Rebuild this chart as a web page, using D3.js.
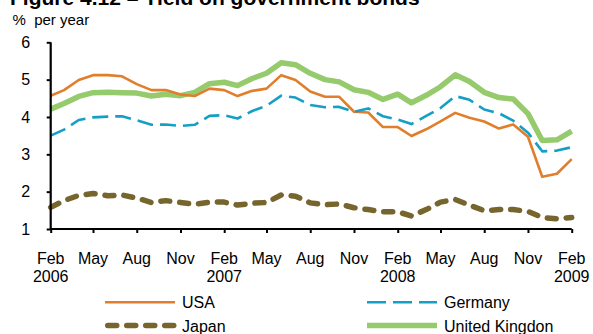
<!DOCTYPE html>
<html>
<head>
<meta charset="utf-8">
<script src="https://cdn.jsdelivr.net/npm/d3@7/dist/d3.min.js"></script>
<style>
  html, body { margin: 0; padding: 0; background: #fff; }
  svg { display: block; font-family: "Liberation Sans", Arial, sans-serif; }
</style>
</head>
<body>
<svg id="chart" width="593" height="334"></svg>
<script>
// Monthly observations, Feb 2006 – Feb 2009
const months = [
  "2006-02","2006-03","2006-04","2006-05","2006-06","2006-07","2006-08","2006-09","2006-10","2006-11","2006-12",
  "2007-01","2007-02","2007-03","2007-04","2007-05","2007-06","2007-07","2007-08","2007-09","2007-10","2007-11","2007-12",
  "2008-01","2008-02","2008-03","2008-04","2008-05","2008-06","2008-07","2008-08","2008-09","2008-10","2008-11","2008-12",
  "2009-01","2009-02"
];

// 10-year government bond yields, % per year
const usa = [4.57,4.72,4.99,5.12,5.12,5.09,4.88,4.72,4.72,4.60,4.56,
  4.76,4.72,4.56,4.70,4.76,5.12,4.99,4.68,4.54,4.54,4.14,4.12,
  3.73,3.73,3.49,3.67,3.88,4.11,3.98,3.88,3.69,3.80,3.47,2.40,
  2.48,2.87];
const germany = [3.50,3.66,3.92,3.99,4.01,4.02,3.91,3.79,3.80,3.76,3.79,
  4.03,4.05,3.96,4.16,4.30,4.57,4.52,4.32,4.26,4.27,4.14,4.23,
  4.02,3.93,3.81,4.03,4.24,4.56,4.46,4.20,4.10,3.90,3.58,3.08,
  3.10,3.19];
const japan = [1.58,1.76,1.90,1.95,1.89,1.91,1.83,1.71,1.76,1.71,1.66,
  1.72,1.72,1.64,1.69,1.71,1.91,1.88,1.70,1.65,1.67,1.57,1.52,
  1.46,1.46,1.35,1.52,1.72,1.79,1.64,1.49,1.52,1.52,1.47,1.31,
  1.27,1.31];
const uk = [4.21,4.36,4.55,4.65,4.66,4.65,4.64,4.56,4.61,4.57,4.66,
  4.89,4.93,4.84,5.03,5.17,5.45,5.40,5.17,5.00,4.94,4.73,4.66,
  4.47,4.61,4.38,4.58,4.81,5.13,4.95,4.66,4.52,4.48,4.09,3.37,
  3.39,3.62];

// Axis ticks
const yTicks = [1, 2, 3, 4, 5, 6];
const xTickMonths = ["2006-02","2006-05","2006-08","2006-11","2007-02","2007-05","2007-08","2007-11",
  "2008-02","2008-05","2008-08","2008-11","2009-02"];
const xTickLabels = [["Feb","2006"],["May"],["Aug"],["Nov"],["Feb","2007"],["May"],["Aug"],["Nov"],
  ["Feb","2008"],["May"],["Aug"],["Nov"],["Feb","2009"]];

const title = "Figure 4.12 – Yield on government bonds";
const unitLabel = "%  per year";

const parse = d3.timeParse("%Y-%m");
const dates = months.map(parse);

const series = [
  { name: "United Kingdon", values: uk,      color: "#95CB6D", width: 5.5, dash: null,   cap: "butt" },
  { name: "USA",            values: usa,     color: "#E07E2C", width: 2.6, dash: null,   cap: "butt" },
  { name: "Germany",        values: germany, color: "#169FC4", width: 2.6, dash: "16,7", cap: "butt" },
  { name: "Japan",          values: japan,   color: "#76652C", width: 5.5, dash: "9,10", cap: "round" }
];

const svg = d3.select("#chart");
const plotLeft = 50.7, plotRight = 571.7, plotTop = 42.3, plotBottom = 229;
const font = "Liberation Sans, Arial, sans-serif";

const x = d3.scaleTime().domain(d3.extent(dates)).range([plotLeft, plotRight]);
const y = d3.scaleLinear().domain([1, 6]).range([plotBottom, plotTop]);

// Title (sits partly above the frame)
svg.append("text")
  .attr("x", 10).attr("y", 4.5)
  .attr("font-size", 21).attr("font-weight", "bold")
  .attr("fill", "#000")
  .text(title);

svg.append("text")
  .attr("x", 12.5).attr("y", 25)
  .attr("font-size", 15)
  .attr("fill", "#000")
  .style("white-space", "pre")
  .text(unitLabel);

// Series lines
const line = d3.line().x((d, i) => x(dates[i])).y(d => y(d));
const plot = svg.append("g");
series.forEach(s => {
  plot.append("path")
    .datum(s.values)
    .attr("d", line)
    .attr("fill", "none")
    .attr("stroke", s.color)
    .attr("stroke-width", s.width)
    .attr("stroke-linejoin", "round")
    .attr("stroke-linecap", s.cap)
    .attr("stroke-dasharray", s.dash);
});

// Y axis
const yAxis = svg.append("g")
  .attr("transform", `translate(${plotLeft},0)`)
  .call(d3.axisLeft(y).tickValues(yTicks).tickSize(4).tickPadding(16.5).tickFormat(d3.format("d")));
yAxis.select(".domain").attr("stroke", "#000").attr("stroke-width", 2.2).attr("d", `M0,${plotBottom}V${plotTop}`);
yAxis.selectAll(".tick line").attr("stroke", "#000").attr("stroke-width", 2);
yAxis.selectAll(".tick text").attr("font-size", 16).attr("font-family", font).attr("fill", "#000");

// X axis
const xTickDates = xTickMonths.map(parse);
const xAxis = svg.append("g")
  .attr("transform", `translate(0,${plotBottom})`)
  .call(d3.axisBottom(x).tickValues(xTickDates).tickSize(4).tickFormat(""));
xAxis.select(".domain").attr("stroke", "#000").attr("stroke-width", 2.2).attr("d", `M${plotLeft},0H${plotRight}`);
xAxis.selectAll(".tick line").attr("stroke", "#000").attr("stroke-width", 2);

const xl = svg.append("g").attr("font-size", 16).attr("fill", "#000").attr("text-anchor", "middle");
xTickDates.forEach((d, i) => {
  const t = xl.append("text").attr("x", x(d)).attr("y", 264);
  xTickLabels[i].forEach((s, j) => {
    t.append("tspan").attr("x", x(d)).attr("dy", j === 0 ? 0 : 17.7).text(s);
  });
});

// Legend
const legendItems = [
  { s: series[1], lx: 105, ly: 302.3 },
  { s: series[2], lx: 367, ly: 302.3 },
  { s: series[3], lx: 105, ly: 325.5 },
  { s: series[0], lx: 367, ly: 325.5 }
];
const legend = svg.append("g");
legendItems.forEach(it => {
  const s = it.s;
  const round = s.cap === "round";
  legend.append("line")
    .attr("x1", it.lx + (round ? 2.75 : 0)).attr("x2", it.lx + 70)
    .attr("y1", it.ly).attr("y2", it.ly)
    .attr("stroke", s.color)
    .attr("stroke-width", s.width)
    .attr("stroke-linecap", s.cap)
    .attr("stroke-dasharray", s.name === "Germany" ? "19,7" : s.dash);
  legend.append("text")
    .attr("x", it.lx + 77).attr("y", it.ly + 6)
    .attr("font-size", 16).attr("fill", "#000")
    .text(s.name);
});
</script>
</body>
</html>
